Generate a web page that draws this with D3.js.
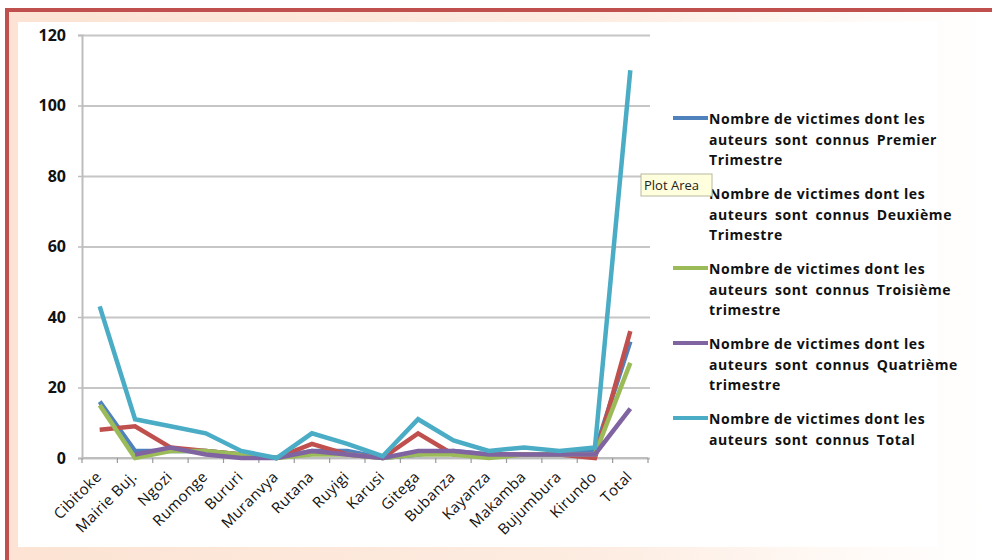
<!DOCTYPE html>
<html><head><meta charset="utf-8">
<script src="https://cdn.jsdelivr.net/npm/d3@7"></script>
<style>
html,body{margin:0;padding:0;background:#fff;}
svg{display:block;}
</style></head>
<body>
<svg id="chart" width="992" height="560"></svg>
<script>
const categories = ["Cibitoke","Mairie Buj.","Ngozi","Rumonge","Bururi","Muranvya","Rutana","Ruyigi","Karusi","Gitega","Bubanza","Kayanza","Makamba","Bujumbura","Kirundo","Total"];
const premier   = [16, 2, 2, 2, 1, 0, 2, 2, 0, 1, 2, 1, 1, 1, 2, 33];
const deuxieme  = [ 8, 9, 3, 2, 1, 0, 4, 1, 0, 7, 1, 1, 1, 1, 0, 36];
const troisieme = [15, 0, 2, 2, 1, 0, 1, 1, 0, 1, 1, 0, 1, 1, 1, 27];
const quatrieme = [null, 1, 3, 1, 0, 0, 2, 1, 0, 2, 2, 1, 1, 1, 1, 14];
const total     = [43, 11, 9, 7, 2, 0, 7, 4, 0.5, 11, 5, 2, 3, 2, 3, 110];
const seriesNames = [
  "Nombre de victimes dont les auteurs sont connus Premier Trimestre",
  "Nombre de victimes dont les auteurs sont connus Deuxième Trimestre",
  "Nombre de victimes dont les auteurs sont connus Troisième trimestre",
  "Nombre de victimes dont les auteurs sont connus Quatrième trimestre",
  "Nombre de victimes dont les auteurs sont connus Total"
];
const seriesColors = ["#4f81bd","#c0504d","#9bbb59","#8064a2","#4bacc6"];
const yTicks = [0,20,40,60,80,100,120];
const tooltipText = "Plot Area";

const series = [premier, deuxieme, troisieme, quatrieme, total].map((v,i)=>({name:seriesNames[i], color:seriesColors[i], values:v}));
const FONT = "'Open Sans', 'Liberation Sans', sans-serif";

const svg = d3.select("#chart");
const defs = svg.append("defs");
const grad = defs.append("linearGradient").attr("id","bg").attr("x1","0").attr("x2","1").attr("y1","0").attr("y2","0");
grad.append("stop").attr("offset","0").attr("stop-color","#fce3d3");
grad.append("stop").attr("offset","0.6").attr("stop-color","#fdece1");
grad.append("stop").attr("offset","0.88").attr("stop-color","#fffbf8");
grad.append("stop").attr("offset","1").attr("stop-color","#ffffff");

// frame
svg.append("rect").attr("x",0).attr("y",0).attr("width",992).attr("height",560).attr("fill","#fff");
svg.append("rect").attr("x",7).attr("y",10).attr("width",985).attr("height",550).attr("fill","url(#bg)");
svg.append("line").attr("x1",5).attr("x2",992).attr("y1",10).attr("y2",10).attr("stroke","#c0504d").attr("stroke-width",4);
svg.append("line").attr("x1",7).attr("x2",7).attr("y1",8).attr("y2",560).attr("stroke","#c0504d").attr("stroke-width",4);
svg.append("rect").attr("x",18).attr("y",22).attr("width",920).attr("height",525).attr("fill","#fff");

const mLeft = 82, mRight = 648, mTop = 35, mBottom = 458;
const x = d3.scaleBand().domain(categories).range([mLeft,mRight]);
const y = d3.scaleLinear().domain([0,120]).range([mBottom,mTop]);

// gridlines
const grid = svg.append("g").attr("transform",`translate(${mLeft},0)`)
  .call(d3.axisLeft(y).tickValues(yTicks).tickSize(-(mRight-mLeft+2)).tickFormat(""));
grid.select(".domain").remove();
grid.selectAll("line").attr("stroke","#c6c6c6").attr("stroke-width",2);

// y axis
const yAxis = svg.append("g").attr("transform",`translate(${mLeft},0)`)
  .call(d3.axisLeft(y).tickValues(yTicks).tickSize(4).tickPadding(12));
yAxis.select(".domain").attr("stroke","#bdbdbd").attr("stroke-width",2);
yAxis.selectAll(".tick line").attr("stroke","#bdbdbd").attr("stroke-width",1.5);
yAxis.selectAll("text").attr("font-family",FONT).attr("font-weight","bold").attr("font-size",16).attr("fill","#111");

// x axis line and ticks between categories
const xg = svg.append("g");
xg.append("line").attr("x1",mLeft).attr("x2",mRight).attr("y1",y(0)).attr("y2",y(0)).attr("stroke","#bdbdbd").attr("stroke-width",2);
const bounds = categories.map(c=>x(c)).concat([x(categories[categories.length-1])+x.bandwidth()]);
xg.selectAll("line.tk").data(bounds).join("line").attr("class","tk")
  .attr("x1",d=>d).attr("x2",d=>d).attr("y1",y(0)).attr("y2",y(0)+5).attr("stroke","#9a9a9a").attr("stroke-width",1.2);
xg.selectAll("text").data(categories).join("text")
  .attr("transform",d=>`translate(${x(d)+x.bandwidth()/2-1},${y(0)+16}) rotate(-45)`)
  .attr("text-anchor","end").attr("dy","0.35em")
  .attr("font-family",FONT).attr("font-size",15).attr("letter-spacing",0.4).attr("fill","#111")
  .text(d=>d);

// lines
const line = d3.line().defined(d=>d.v!==null).x(d=>x(d.c)+x.bandwidth()/2).y(d=>y(d.v));
svg.append("g").selectAll("path").data(series).join("path")
  .attr("d",s=>line(s.values.map((v,i)=>({c:categories[i],v}))))
  .attr("fill","none").attr("stroke",s=>s.color).attr("stroke-width",4.5)
  .attr("stroke-linejoin","miter").attr("stroke-linecap","butt");

// legend
const lg = svg.append("g");
series.forEach((s,i)=>{
  const y0 = 118 + i*75;
  lg.append("line").attr("x1",673).attr("x2",708).attr("y1",y0).attr("y2",y0).attr("stroke",s.color).attr("stroke-width",4);
  const words = s.name.split(" ");
  const lines = [words.slice(0,5).join(" "), words.slice(5,9).join(" "), words.slice(9).join(" ")].filter(t=>t.length);
  const t = lg.append("text").attr("x",709).attr("y",y0+6)
    .attr("font-family",FONT).attr("font-weight","bold").attr("font-size",14).attr("letter-spacing",0.6).attr("fill","#111");
  lines.forEach((ln,j)=>{
    t.append("tspan").attr("x",709).attr("dy",j===0?0:20.5).attr("word-spacing",j===1?3:0).text(ln);
  });
});

// tooltip
const tip = svg.append("g").attr("transform","translate(641,174)");
tip.append("rect").attr("width",71).attr("height",22).attr("fill","#ffffdd").attr("stroke","#b8b8a0").attr("stroke-width",1);
tip.append("text").attr("x",3).attr("y",16).attr("font-family",FONT).attr("font-size",13).attr("fill","#222").text(tooltipText);
</script>
</body></html>
